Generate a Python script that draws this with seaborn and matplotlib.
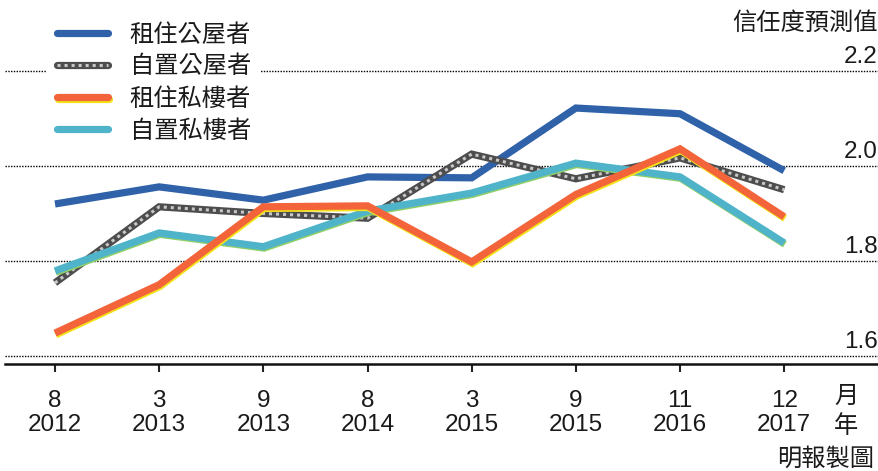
import numpy as np
import pandas as pd
import matplotlib
matplotlib.use("Agg")
import matplotlib.pyplot as plt
import matplotlib.patheffects as pe
from matplotlib.lines import Line2D
from matplotlib.legend_handler import HandlerTuple
import seaborn as sns

# ---- data ----
months = ['8', '3', '9', '8', '3', '9', '11', '12']
years = ['2012', '2013', '2013', '2014', '2015', '2015', '2016', '2017']
series_names = ['租住公屋者', '自置公屋者', '租住私樓者', '自置私樓者']
rent_public = [1.920, 1.956, 1.928, 1.977, 1.975, 2.122, 2.110, 1.990]
own_public = [1.754, 1.914, 1.900, 1.890, 2.025, 1.973, 2.017, 1.950]
rent_private = [1.648, 1.750, 1.914, 1.916, 1.798, 1.940, 2.036, 1.893]
own_private = [1.779, 1.859, 1.830, 1.905, 1.943, 2.006, 1.977, 1.838]
y_ticks = [1.6, 1.8, 2.0, 2.2]
y_tick_labels = ['1.6', '1.8', '2.0', '2.2']

colors = {'租住公屋者': '#2f62a8', '自置公屋者': '#4d4d4d',
          '租住私樓者': '#f3643a', '自置私樓者': '#4fb4c9'}
TXT = '#1a1a1a'

sns.set_theme(style='white')
plt.rcParams['font.family'] = ['Liberation Sans', 'Noto Sans CJK TC', 'DejaVu Sans']

xpos = np.arange(len(months))
df = pd.DataFrame({
    'x': np.tile(xpos, 4),
    'value': rent_public + own_public + rent_private + own_private,
    'series': np.repeat(series_names, len(months)),
})

fig = plt.figure(figsize=(8.79, 4.71), dpi=100)
fig.patch.set_facecolor('white')
ax = fig.add_axes([5 / 879, 107 / 471, 874 / 879, 364 / 471])
ax.set_facecolor('none')

# gridlines
for v in y_ticks:
    ax.axhline(v, color='black', lw=1.0, ls=(0, (1, 1)), zorder=1)

draw_order = ['租住公屋者', '自置公屋者', '自置私樓者', '租住私樓者']
for z, name in enumerate(draw_order):
    sub = df[df['series'] == name]
    sns.lineplot(data=sub, x='x', y='value', color=colors[name], lw=5.2,
                 ax=ax, legend=False, zorder=3 + z, solid_joinstyle='miter',
                 solid_capstyle='butt')
    line = ax.lines[-1]
    if name == '租住私樓者':
        line.set_path_effects([pe.Stroke(offset=(0.6, -1.2), linewidth=5.2, foreground='#f2e21a'),
                               pe.Normal()])
    elif name == '自置私樓者':
        line.set_path_effects([pe.Stroke(offset=(0.5, -1.0), linewidth=5.2, foreground='#8fcf6a'),
                               pe.Normal()])
    elif name == '自置公屋者':
        ax.plot(sub['x'], sub['value'], color='#c8c8c8', lw=2.2, ls=(0, (1, 1.3)),
                zorder=3 + z + 0.5, solid_joinstyle='miter')

ax.set_xlim(-0.48, 7.91)
ax.set_ylim(1.583, 2.3495)
ax.set_xlabel('')
ax.set_ylabel('')
ax.set_yticks([])
ax.set_xticks(xpos)
ax.set_xticklabels([f'{m}\n{y}' for m, y in zip(months, years)], fontsize=17.5,
                   linespacing=1.15, color=TXT)
ax.tick_params(axis='x', length=6, width=1.5, color='#222222', pad=12.5, bottom=True)
for s in ['top', 'right', 'left']:
    ax.spines[s].set_visible(False)
ax.spines['bottom'].set_color('#111111')
ax.spines['bottom'].set_linewidth(1.8)

# y labels at right, above lines
for v, lab in zip(y_ticks, y_tick_labels):
    ax.annotate(lab, xy=(1.0, v), xycoords=('axes fraction', 'data'),
                xytext=(-1, 2), textcoords='offset points', ha='right', va='bottom',
                fontsize=17.5, color=TXT)

fig.text(878 / 879, 1 - 24 / 471, '信任度預測值', ha='right', va='center',
         fontsize=17.5, color=TXT)
fig.text(846 / 879, 1 - 397 / 471, '月', ha='center', va='center', fontsize=17.5, color=TXT)
fig.text(846 / 879, 1 - 427 / 471, '年', ha='center', va='center', fontsize=17.5, color=TXT)
fig.text(874 / 879, 1 - 459 / 471, '明報製圖', ha='right', va='center', fontsize=17.5, color=TXT)

# legend
handles = []
for name in series_names:
    h = Line2D([], [], color=colors[name], lw=5.2)
    if name == '租住私樓者':
        h.set_path_effects([pe.Stroke(offset=(0.6, -1.2), linewidth=5.2, foreground='#f2e21a'), pe.Normal()])
    if name == '自置公屋者':
        h = (h, Line2D([], [], color='#c8c8c8', lw=2.2, ls=(0, (1, 1.3))))
    handles.append(h)
leg = ax.legend(handles, series_names, loc='upper left',
                bbox_to_anchor=(35 / 879, 1 - 2 / 471), bbox_transform=fig.transFigure,
                handlelength=2.1, handletextpad=0.9, labelspacing=0.38,
                borderpad=0.4, fontsize=17.5, frameon=True, facecolor='white',
                edgecolor='none', framealpha=1,
                handler_map={tuple: HandlerTuple(ndivide=1)})
leg.set_zorder(10)
for t in leg.get_texts():
    t.set_color(TXT)

fig.savefig('out.png', dpi=100, facecolor='white')
